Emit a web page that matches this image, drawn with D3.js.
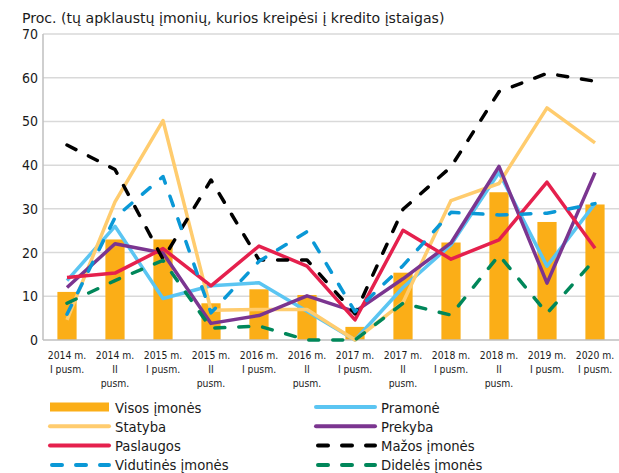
<!DOCTYPE html>
<html lang="lt">
<head>
<meta charset="UTF-8">
<title>Chart</title>
<script src="https://d3js.org/d3.v7.min.js"></script>
<style>
  body { margin: 0; background: #fff; }
  text { font-family: "DejaVu Sans", sans-serif; font-stretch: condensed; fill: #1a1a1a; }
</style>
</head>
<body>
<script>
  // category labels, "|" = line break
  const categories = [
    "2014 m.|I pusm.", "2014 m.|II|pusm.", "2015 m.|I pusm.", "2015 m.|II|pusm.",
    "2016 m.|I pusm.", "2016 m.|II|pusm.", "2017 m.|I pusm.", "2017 m.|II|pusm.",
    "2018 m.|I pusm.", "2018 m.|II|pusm.", "2019 m.|I pusm.", "2020 m.|I pusm."
  ];
  const yTicks = [0, 10, 20, 30, 40, 50, 60, 70];

  const visos     = [11, 23, 23, 8.4, 11.6, 10.3, 3, 15.4, 22.3, 33.8, 27, 31];
  const pramone   = [13.6, 26, 9.5, 12.4, 13.1, 6.6, 0, 12, 21.8, 38.3, 16.9, 31.2];
  const statyba   = [4.6, 31.6, 50.2, 6.8, 7, 7, 0, 8.6, 31.9, 35.8, 53.1, 45.1];
  const prekyba   = [12, 22, 19.9, 3.8, 5.6, 10.1, 6.5, 14, 22.2, 39.7, 13, 38.3];
  const paslaugos = [14.3, 15.3, 20.9, 12.4, 21.5, 16.9, 4.6, 25.1, 18.5, 22.9, 36.1, 21];
  const mazos     = [44.6, 39, 18.5, 36.6, 18.3, 18.3, 6, 29.9, 39.6, 56.8, 61, 59.2];
  const vidutines = [5.9, 28, 37.4, 6.2, 18, 24.8, 6.5, 17, 29.2, 28.6, 29, 31.2];
  const dideles   = [8.4, 13.6, 18.2, 2.7, 3.2, 0, 0, 8.4, 5.7, 19.4, 6.1, 18.5];

  const lines = [
    { name: "Pramonė", values: pramone, color: "#5bc5f2", dash: null },
    { name: "Statyba", values: statyba, color: "#ffcc6e", dash: null },
    { name: "Prekyba", values: prekyba, color: "#7b3590", dash: null },
    { name: "Paslaugos", values: paslaugos, color: "#e5204d", dash: null },
    { name: "Mažos įmonės", values: mazos, color: "#000000", dash: "10,14" },
    { name: "Vidutinės įmonės", values: vidutines, color: "#0a98d6", dash: "10,14" },
    { name: "Didelės įmonės", values: dideles, color: "#00875a", dash: "10,14" }
  ];

  const width = 619, height = 473;
  const pLeft = 43, pRight = 619, pTop = 34, pBottom = 340;

  const svg = d3.select("body").append("svg")
    .attr("width", width)
    .attr("height", height);

  const x = d3.scaleBand()
    .domain(categories)
    .range([pLeft, pRight])
    .paddingInner(0.6)
    .paddingOuter(0.3);
  const cx = c => x(c) + x.bandwidth() / 2;

  const y = d3.scaleLinear().domain([0, 70]).range([pBottom, pTop]);

  // title
  svg.append("text")
    .attr("x", 22).attr("y", 23)
    .style("font-size", "14.1px")
    .style("font-stretch", "normal")
    .text("Proc. (tų apklaustų įmonių, kurios kreipėsi į kredito įstaigas)");

  // grid
  svg.append("g").selectAll("line")
    .data(yTicks.filter(d => d > 0))
    .join("line")
    .attr("x1", pLeft).attr("x2", pRight)
    .attr("y1", d => y(d)).attr("y2", d => y(d))
    .attr("stroke", "#d9d9d9").attr("stroke-width", 1.5);

  svg.append("g").selectAll("text")
    .data(yTicks)
    .join("text")
    .attr("x", 38).attr("y", d => y(d) + 5)
    .attr("text-anchor", "end")
    .style("font-size", "14px")
    .text(d => d);

  // bars
  svg.append("g").selectAll("rect")
    .data(visos)
    .join("rect")
    .attr("x", (d, i) => x(categories[i]))
    .attr("width", x.bandwidth())
    .attr("y", d => y(d))
    .attr("height", d => y(0) - y(d))
    .attr("fill", "#fbae17");

  // axes lines
  svg.append("line")
    .attr("x1", pLeft).attr("x2", pLeft).attr("y1", pTop).attr("y2", pBottom)
    .attr("stroke", "#bfbfbf").attr("stroke-width", 1.5);
  svg.append("line")
    .attr("x1", pLeft).attr("x2", pRight).attr("y1", pBottom).attr("y2", pBottom)
    .attr("stroke", "#bfbfbf").attr("stroke-width", 1.5);

  const line = d3.line()
    .x((d, i) => cx(categories[i]))
    .y(d => y(d));

  lines.forEach(s => {
    svg.append("path")
      .datum(s.values)
      .attr("d", line)
      .attr("fill", "none")
      .attr("stroke", s.color)
      .attr("stroke-width", 3.5)
      .attr("stroke-linejoin", "round")
      .attr("stroke-linecap", s.dash ? "round" : "butt")
      .attr("stroke-dasharray", s.dash);
  });

  // x labels
  const xl = svg.append("g").selectAll("text")
    .data(categories)
    .join("text")
    .attr("text-anchor", "middle")
    .style("font-size", "10.3px");
  xl.selectAll("tspan")
    .data(d => d.split("|").map(t => ({ t, c: d })))
    .join("tspan")
    .attr("x", d => cx(d.c))
    .attr("y", (d, i) => 359 + i * 14)
    .text(d => d.t);

  // legend
  const legendItems = [{ name: "Visos įmonės", color: "#fbae17", bar: true }].concat(lines);
  const leg = svg.append("g");
  legendItems.forEach((s, i) => {
    const col = i % 2, row = Math.floor(i / 2);
    const lx = col === 0 ? 50 : 316;
    const ly = 407 + row * 19.3;
    if (s.bar) {
      leg.append("rect")
        .attr("x", lx).attr("y", ly - 4.5)
        .attr("width", 59).attr("height", 9)
        .attr("fill", s.color);
    } else {
      leg.append("line")
        .attr("x1", lx + (s.dash ? 2 : 0)).attr("x2", lx + 59)
        .attr("y1", ly).attr("y2", ly)
        .attr("stroke", s.color)
        .attr("stroke-width", 4)
        .attr("stroke-linecap", "round")
        .attr("stroke-dasharray", s.dash);
    }
    leg.append("text")
      .attr("x", lx + 65).attr("y", ly + 5.5)
      .style("font-size", "14.7px")
      .text(s.name);
  });
</script>
</body>
</html>
